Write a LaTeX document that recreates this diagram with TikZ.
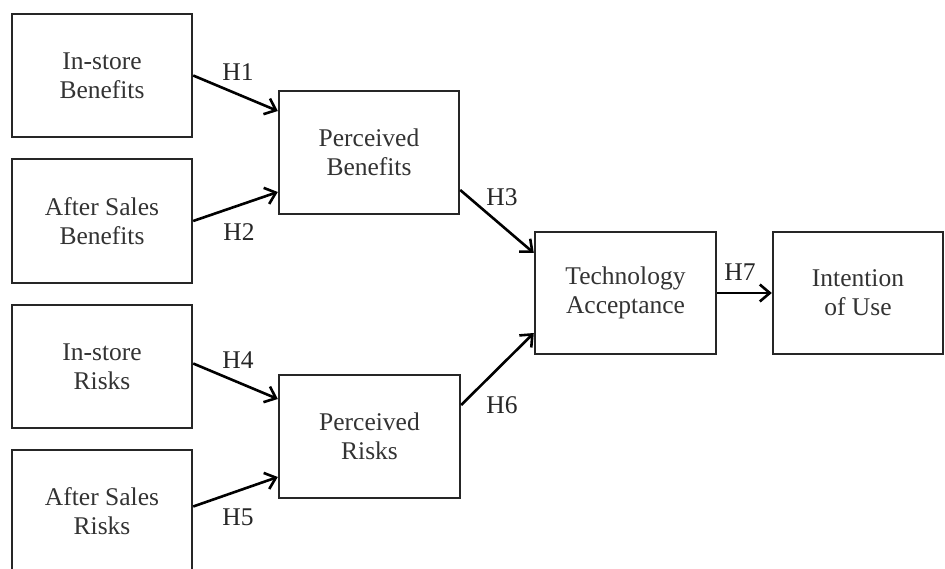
\documentclass[tikz,border=0pt]{standalone}
\usepackage{fontspec}
\setmainfont{Liberation Serif}
\usetikzlibrary{arrows.meta,calc}
\begin{document}
\begin{tikzpicture}[x=1pt,y=-1pt,
  box/.style={draw=black!85,line width=2.4pt,align=center,inner sep=0pt,
    font=\fontsize{25.5}{29}\selectfont,text=black!80},
  lbl/.style={inner sep=0pt,font=\fontsize{25.5}{29}\selectfont,text=black!85},
  arr/.style={draw=black,line width=2.6pt,-{Straight Barb[length=10pt,width=17pt,line width=2.6pt]}}]
\useasboundingbox (0,0) rectangle (945,569);
\clip (0,0) rectangle (945,569);
\fill[white] (0,0) rectangle (945,569);
\node[box,minimum width=180pt,minimum height=123pt] (b1) at (102,75.5) {In-store\\Benefits};
\node[box,minimum width=180pt,minimum height=124pt] (b2) at (102,221) {After Sales\\Benefits};
\node[box,minimum width=180pt,minimum height=123pt] (b3) at (102,366.5) {In-store\\Risks};
\node[box,minimum width=180pt,minimum height=123pt] (b4) at (102,511.5) {After Sales\\Risks};
\node[box,minimum width=180pt,minimum height=123pt] (pb) at (369,152.5) {Perceived\\Benefits};
\node[box,minimum width=181pt,minimum height=123pt] (pr) at (369.5,436.5) {Perceived\\Risks};
\node[box,minimum width=181pt,minimum height=122pt] (ta) at (625.5,293) {Technology\\Acceptance};
\node[box,minimum width=170pt,minimum height=122pt] (iu) at (858,293) {Intention\\of Use};
\draw[arr] (b1.east) -- ($(pb.west)+(0,-41.5)$);
\draw[arr] (b2.east) -- ($(pb.west)+(0,39.5)$);
\draw[arr] ($(pb.east)+(0,37.5)$) -- ($(ta.west)+(0,-40)$);
\draw[arr] ($(pr.east)+(0,-31.5)$) -- ($(ta.west)+(0,40)$);
\draw[arr] (ta.east) -- (iu.west);
\draw[arr] ($(b3.east)+(0,-3)$) -- ($(pr.west)+(0,-37.5)$);
\draw[arr] ($(b4.east)+(0,-5)$) -- ($(pr.west)+(0,40.5)$);
\node[lbl] (h1) at (238,72) {H1};
\node[lbl] (h2) at (239,232) {H2};
\node[lbl] (h3) at (502,197) {H3};
\node[lbl] (h7) at (740,272) {H7};
\node[lbl] (h4) at (238,360) {H4};
\node[lbl] (h5) at (238,517) {H5};
\node[lbl] (h6) at (502,405) {H6};
\end{tikzpicture}
\end{document}
